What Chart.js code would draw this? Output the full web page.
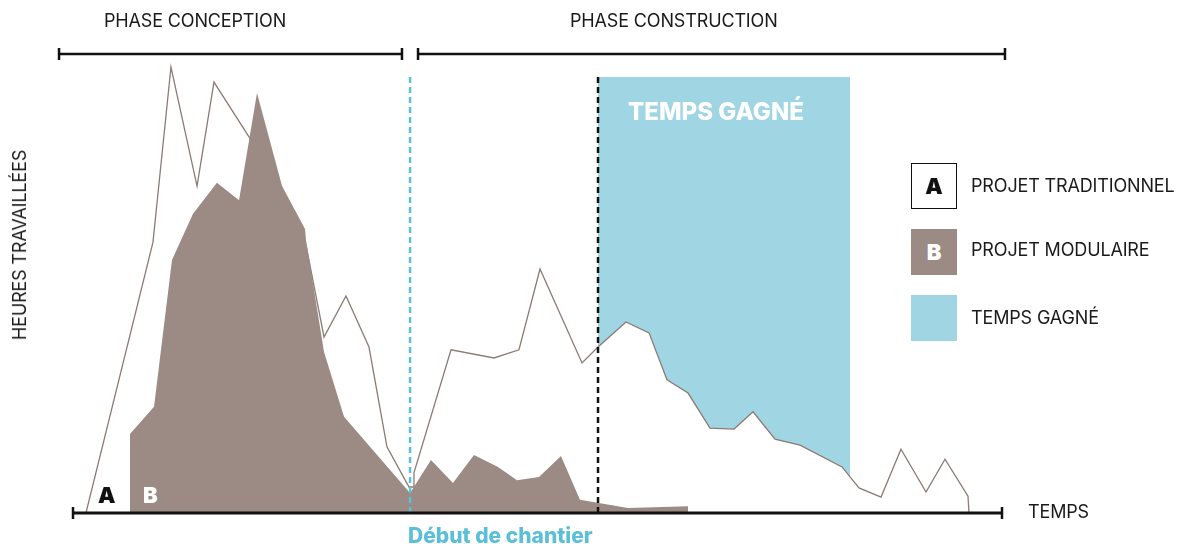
<!DOCTYPE html>
<html><head><meta charset="utf-8">
<script src="https://cdn.jsdelivr.net/npm/chart.js@4.4.1/dist/chart.umd.min.js"></script>
<style>
body{margin:0;background:#fff;}
#wrap{position:relative;width:1189px;height:544px;overflow:hidden;font-family:Inter,"Noto Sans",sans-serif;color:#1a1a1a;}
canvas{position:absolute;left:0;top:0;}
.t{position:absolute;white-space:nowrap;line-height:1;transform:translateY(-50%);font-size:18px;letter-spacing:-0.15px;}
.box{position:absolute;width:46px;height:46px;box-sizing:border-box;display:flex;align-items:center;justify-content:center;font-weight:900;font-size:22px;line-height:1;}
</style></head>
<body><div id="wrap"><canvas id="c" width="1189" height="544"></canvas>
<div class="t" style="left:104px;top:21px;">PHASE CONCEPTION</div>
<div class="t" style="left:570px;top:21px;">PHASE CONSTRUCTION</div>
<div class="t" style="left:20px;top:245px;transform:translate(-50%,-50%) rotate(-90deg);">HEURES TRAVAILLÉES</div>
<div class="t" style="left:1028px;top:512px;">TEMPS</div>
<div class="t" style="left:408px;top:535px;font-size:21px;font-weight:800;letter-spacing:0;color:#5bbfd7;">Début de chantier</div>
<div class="t" style="left:628px;top:112px;font-size:24px;font-weight:800;letter-spacing:0;color:#fff;">TEMPS GAGNÉ</div>
<div class="t" style="left:98px;top:495px;font-size:22px;font-weight:900;letter-spacing:0;color:#111;">A</div>
<div class="t" style="left:143px;top:495px;font-size:22px;font-weight:900;letter-spacing:0;color:#fff;">B</div>
<div class="box" style="left:911px;top:163px;border:1.5px solid #111;color:#111;">A</div>
<div class="box" style="left:911px;top:229px;background:#9b8b84;color:#fff;">B</div>
<div class="box" style="left:911px;top:295px;background:#a0d6e4;"></div>
<div class="t" style="left:971px;top:186px;">PROJET TRADITIONNEL</div>
<div class="t" style="left:971px;top:250px;">PROJET MODULAIRE</div>
<div class="t" style="left:971px;top:318px;">TEMPS GAGNÉ</div>
</div>
<script>
// Project A (traditional) – time / worked hours
const traditionalTime = [1.50, 8.70, 10.63, 13.43, 15.25, 19.01, 25.13, 27.07, 29.43, 31.90, 33.83, 36.20, 36.63, 36.73, 40.71, 45.33, 48.01, 50.27, 54.78, 56.50, 59.51, 61.98, 63.91, 66.17, 68.53, 71.11, 73.15, 75.51, 78.20, 82.71, 84.53, 86.90, 89.04, 91.73, 93.77, 96.24, 96.35];
const traditionalHours = [0, 59.4, 97.8, 71.7, 94.5, 82.5, 58.8, 38.6, 47.6, 36.4, 14.5, 5.7, 5.7, 8.8, 35.8, 34.0, 35.8, 53.5, 32.9, 36.4, 41.9, 39.5, 29.2, 26.3, 18.6, 18.4, 22.2, 16.2, 14.9, 10.1, 5.5, 3.5, 14.0, 4.6, 11.8, 3.7, 0];
// Project B (modular)
const modularTime = [6.23, 6.23, 8.81, 10.74, 13.00, 15.57, 17.94, 19.87, 22.56, 25.03, 25.13, 27.07, 29.22, 36.31, 38.56, 40.92, 43.18, 45.76, 47.80, 50.16, 52.52, 54.56, 55.96, 59.72, 66.17, 66.17];
const modularHours = [0, 17.3, 23.3, 55.5, 65.6, 72.4, 68.6, 92.1, 71.7, 62.3, 59.9, 35.3, 21.1, 4.4, 11.6, 6.6, 12.7, 10.1, 7.2, 7.9, 12.5, 2.9, 2.4, 1.1, 1.5, 0];
// Time gained region
const gainStart = 56.50, gainEnd = 83.57, gainTop = 95.6;
// Markers
const siteStart = 36.31, switchTime = 56.50, markerTop = 95.8;
// Phases
const phaseNames = ['PHASE CONCEPTION', 'PHASE CONSTRUCTION'];
const phaseStart = [-1.5, 37.06];
const phaseEnd = [35.55, 100.32];
const phaseLevel = 100.66;
const axisStart = 0, axisEnd = 100;

const pts = (xs, ys) => xs.map((x, i) => ({x, y: ys[i]}));

const framePlugin = {
  id: 'frame',
  afterDatasetsDraw(chart) {
    const {ctx, scales: {x, y}} = chart;
    ctx.save();
    ctx.strokeStyle = '#111';
    ctx.lineCap = 'butt';
    const bracket = (a, b, v, w, half) => {
      const x0 = x.getPixelForValue(a), x1 = x.getPixelForValue(b), yy = y.getPixelForValue(v);
      ctx.lineWidth = w;
      ctx.beginPath();
      ctx.moveTo(x0, yy); ctx.lineTo(x1, yy);
      ctx.stroke();
      ctx.lineWidth = 2.5;
      ctx.beginPath();
      ctx.moveTo(x0 + 1, yy - half); ctx.lineTo(x0 + 1, yy + half);
      ctx.moveTo(x1 - 1, yy - half); ctx.lineTo(x1 - 1, yy + half);
      ctx.stroke();
    };
    bracket(axisStart, axisEnd, 0, 3, 6);
    phaseNames.forEach((n, i) => bracket(phaseStart[i], phaseEnd[i], phaseLevel, 2.5, 6));
    ctx.restore();
  }
};

new Chart(document.getElementById('c'), {
  type: 'line',
  data: {
    datasets: [
      {label: 'Début de chantier', data: [{x: siteStart, y: 0}, {x: siteStart, y: markerTop}], borderColor: '#5bc0da', borderWidth: 2.5, borderDash: [6, 4], pointRadius: 0, fill: false, order: 0},
      {label: 'Bascule', data: [{x: switchTime, y: 0}, {x: switchTime, y: markerTop}], borderColor: '#111', borderWidth: 2.5, borderDash: [6, 4], pointRadius: 0, fill: false, order: 0},
      {label: 'PROJET MODULAIRE', data: pts(modularTime, modularHours), fill: 'origin', backgroundColor: '#9b8b84', borderWidth: 0, pointRadius: 0, order: 1},
      {label: 'PROJET TRADITIONNEL', data: pts(traditionalTime, traditionalHours), borderColor: '#8b7b74', borderWidth: 1.3, fill: false, pointRadius: 0, order: 2},
      {label: 'TEMPS GAGNÉ', data: [{x: gainStart, y: gainTop}, {x: gainEnd, y: gainTop}], fill: 3, backgroundColor: '#a0d6e4', borderWidth: 0, pointRadius: 0, order: 3}
    ]
  },
  options: {
    responsive: false, animation: false, events: [],
    layout: {padding: {left: 72, right: 186, top: 57, bottom: 31}},
    scales: {
      x: {type: 'linear', min: 0, max: 100, display: false},
      y: {min: 0, max: 100, display: false}
    },
    elements: {line: {tension: 0}},
    plugins: {legend: {display: false}, tooltip: {enabled: false}}
  },
  plugins: [framePlugin]
});
</script>
</body></html>
